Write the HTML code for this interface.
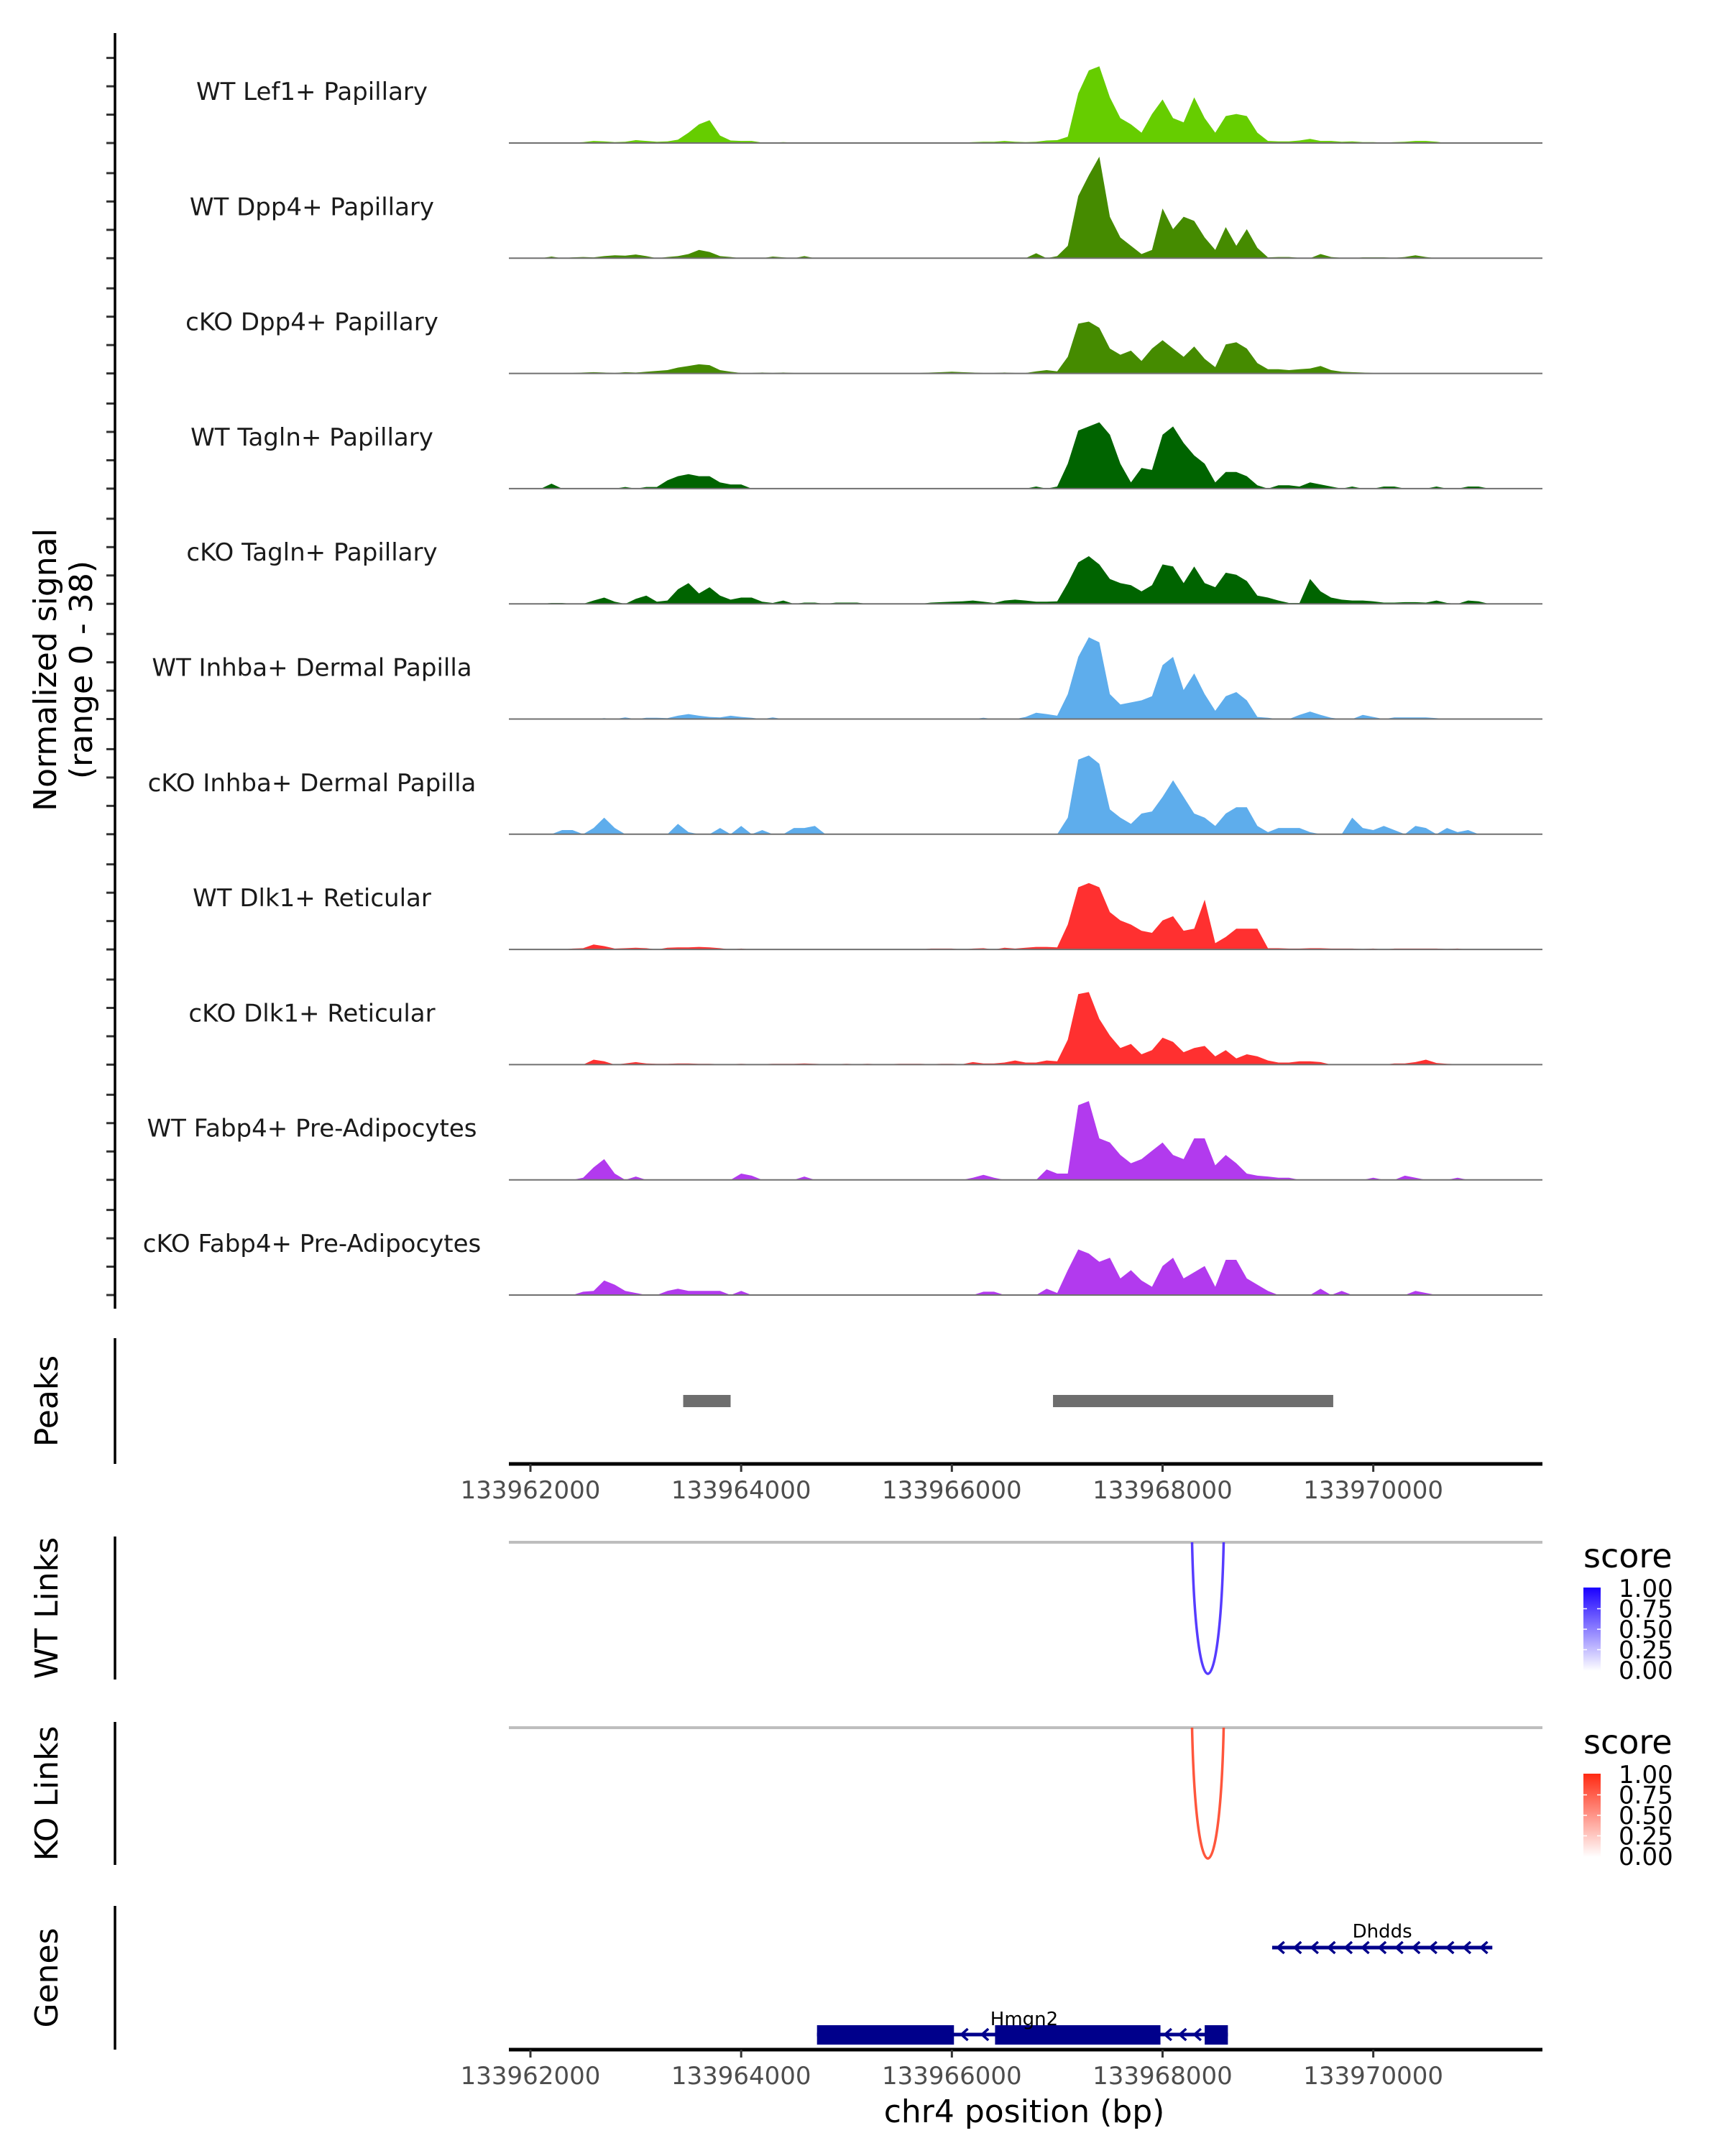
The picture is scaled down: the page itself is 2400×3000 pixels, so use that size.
<!DOCTYPE html>
<html><head><meta charset="utf-8"><style>
html,body{margin:0;padding:0;background:#fff}
svg{display:block;font-family:"DejaVu Sans","Liberation Sans",sans-serif}
</style></head><body>
<svg id="chart" width="2400" height="3000" viewBox="0 0 2400 3000" xmlns="http://www.w3.org/2000/svg">
<g id="signal"></g>
<g id="axes"></g>
</svg>
<script>
// ---- data ----
const regionStart = 133961750;
const binSize = 100;
const trackNames = ["WT Lef1+ Papillary","WT Dpp4+ Papillary","cKO Dpp4+ Papillary","WT Tagln+ Papillary","cKO Tagln+ Papillary","WT Inhba+ Dermal Papilla","cKO Inhba+ Dermal Papilla","WT Dlk1+ Reticular","cKO Dlk1+ Reticular","WT Fabp4+ Pre-Adipocytes","cKO Fabp4+ Pre-Adipocytes"];
const trackColors = ["#66cd00","#458b00","#458b00","#006400","#006400","#5eadec","#5eadec","#ff3030","#ff3030","#b23aee","#b23aee"];
// signal values per 100bp bin (arbitrary scale, max ~260 ≈ 38 normalized)
const sLef1WT = [0,0,0,0,1,1,1,2,5,4,2,3,7,5,3,4,8,25,45,55,18,6,5,5,1,1,2,1,1,1,1,1,1,1,1,1,1,1,1,1,1,1,1,1,2,3,3,5,3,2,3,6,7,15,120,175,185,110,60,45,25,70,105,60,50,110,60,25,65,70,65,25,5,4,4,6,10,5,5,3,4,2,2,1,2,3,5,5,3,0,0,0,0,0,0,0,0,0];
const sDpp4WT = [0,0,0,0,4,0,2,3,2,5,7,6,9,5,0,3,5,10,20,15,5,3,0,0,0,4,2,0,5,0,0,0,0,0,0,0,0,0,0,0,0,0,0,0,0,0,0,0,0,0,12,0,5,30,150,200,245,100,50,30,10,20,120,70,100,90,50,20,75,30,70,25,2,3,3,1,0,10,3,1,0,2,2,2,1,3,7,3,0,0,0,0,0,0,0,0,0,0];
const sDpp4KO = [0,0,0,0,1,1,1,2,3,2,1,3,2,4,6,8,14,18,22,20,8,4,1,1,2,1,2,1,1,1,1,1,1,1,1,1,1,1,1,1,2,3,4,3,2,1,1,2,1,1,5,8,5,40,120,125,110,60,45,55,30,60,80,60,40,65,35,15,70,75,60,25,10,10,8,10,12,18,8,4,3,2,1,1,1,1,1,1,1,1,1,0,0,0,0,0,0,0];
const sTaglnWT = [0,0,0,0,12,0,0,0,0,0,0,4,0,4,4,20,30,35,30,30,15,10,10,0,0,0,0,0,0,0,0,0,0,0,0,0,0,0,0,0,0,0,0,0,0,0,0,0,0,0,5,0,5,60,140,150,160,130,60,15,50,45,130,150,110,80,60,15,40,40,30,8,0,8,8,5,15,10,5,0,5,0,0,5,5,0,0,0,5,0,0,5,5,0,0,0,0,0];
const sTaglnKO = [0,0,0,0,2,2,0,0,8,15,5,0,12,20,5,8,35,50,25,40,20,10,15,15,5,2,8,0,3,3,0,3,3,3,0,0,0,0,0,0,3,4,5,6,8,5,2,8,10,8,5,5,6,50,100,115,95,60,50,45,30,45,95,90,50,90,50,40,75,70,55,20,15,8,2,2,60,30,15,10,8,8,6,3,3,4,4,3,8,2,0,8,6,0,0,0,0,0];
const sInhbaWT = [0,0,0,0,0,0,0,0,0,2,0,4,0,3,3,2,8,12,8,5,4,8,5,3,0,4,0,0,0,0,0,0,0,0,0,0,0,0,0,0,0,0,0,0,0,3,0,0,0,5,15,12,8,60,150,197,185,60,35,40,45,55,130,150,70,110,60,20,55,65,45,5,3,0,0,10,18,10,3,0,0,10,5,0,4,4,4,4,2,0,0,0,0,0,0,0,0,0];
const sInhbaKO = [0,0,0,0,0,10,10,0,15,40,15,0,0,0,0,0,25,5,0,0,15,0,20,0,10,0,0,15,15,20,0,0,0,0,0,0,0,0,0,0,0,0,0,0,0,0,0,0,0,0,0,0,0,40,180,190,170,60,40,25,50,55,90,130,90,50,40,20,50,65,65,20,5,15,15,15,5,0,0,0,40,15,10,20,10,0,20,15,0,15,5,10,0,0,0,0,0,0];
const sDlk1WT = [0,0,0,0,0,0,2,3,12,8,2,3,4,3,0,4,5,5,6,5,3,0,2,0,0,0,0,0,0,0,0,0,0,0,0,0,0,0,0,0,2,2,2,0,2,3,0,4,2,4,6,6,5,60,150,160,150,90,70,60,45,40,70,80,45,50,120,15,30,50,50,50,3,3,2,2,3,3,2,2,2,1,2,0,2,2,2,2,2,1,2,0,0,0,0,0,0,0];
const sDlk1KO = [0,0,0,0,0,0,0,0,12,8,0,3,6,3,2,2,3,3,2,2,1,1,2,1,1,2,2,2,3,2,1,1,2,1,2,1,1,2,2,2,1,2,2,1,6,3,3,5,10,5,5,10,8,60,170,175,110,70,40,50,25,35,65,55,30,40,45,20,35,15,25,20,10,5,5,8,8,6,0,0,0,0,0,0,3,3,6,12,4,2,1,0,0,0,0,0,0,0];
const sFabp4WT = [0,0,0,0,0,0,0,5,30,50,15,0,8,0,0,0,0,0,0,0,0,0,15,10,0,0,0,0,8,0,0,0,0,0,0,0,0,0,0,0,0,0,0,0,5,12,5,0,0,0,0,25,15,15,180,190,100,90,60,40,50,70,90,60,50,100,100,35,60,40,15,10,8,5,5,0,0,0,0,0,0,0,5,0,0,10,5,0,0,0,5,0,0,0,0,0,0,0];
const sFabp4KO = [0,0,0,0,0,0,0,8,10,35,25,10,5,0,0,10,15,10,10,10,10,0,10,0,0,0,0,0,0,0,0,0,0,0,0,0,0,0,0,0,0,0,0,0,0,8,8,0,0,0,0,15,5,60,110,100,80,90,40,60,35,20,70,90,40,55,70,20,85,85,40,25,10,0,0,0,0,15,0,10,0,0,0,0,0,0,10,5,0,0,0,0,0,0,0,0,0,0];
const signals = [sLef1WT,sDpp4WT,sDpp4KO,sTaglnWT,sTaglnKO,sInhbaWT,sInhbaKO,sDlk1WT,sDlk1KO,sFabp4WT,sFabp4KO];
const signalMax = 260;
const signalTicks = [0,68.4,136.8,205.2]; // 0,10,20,30 normalized units
const peakStarts = [133963450,133966960];
const peakEnds = [133963900,133969620];
const xTicks = [133962000,133964000,133966000,133968000,133970000];
const linkStartsWT = [133968280], linkEndsWT = [133968580], linkScoresWT = [0.8];
const linkStartsKO = [133968280], linkEndsKO = [133968580], linkScoresKO = [0.8];
const geneNames = ["Dhdds","Hmgn2"];
const geneStarts = [133969040,133964720];
const geneEnds = [133971130,133968620];
const hmgn2ExonStarts = [133964720,133966410,133968400];
const hmgn2ExonEnds = [133966020,133967980,133968620];

// ---- scales ----
const X0 = 738, PXBP = 0.14658;
const xs = bp => X0 + (bp - 133962000) * PXBP;
const trackTop0 = 199, trackStep = 160.3, trackH = 150;
const ys = (v, k) => trackTop0 + k*trackStep - v/signalMax*trackH;
const NS = "http://www.w3.org/2000/svg";
function mk(tag, attrs, parent, text){const e=document.createElementNS(NS,tag);for(const a in attrs)e.setAttribute(a,attrs[a]);if(text!==undefined)e.textContent=text;parent.appendChild(e);return e;}
const svg = document.getElementById('chart');
const gS = document.getElementById('signal');
const gA = document.getElementById('axes');

// signal tracks
signals.forEach((arr,k)=>{
  const base = ys(0,k);
  let d = `M${xs(regionStart+binSize*0.5).toFixed(1)},${base}`;
  arr.forEach((v,i)=>{
    const xc = xs(regionStart+(i+0.5)*binSize);
    d += ` L${xc.toFixed(1)},${ys(v,k).toFixed(1)}`;
  });
  d += ` L${xs(regionStart+(arr.length-0.5)*binSize).toFixed(1)},${base} Z`;
  const p = mk('path',{d:d,fill:trackColors[k]},gS);
  
  
  const bl = mk('line',{x1:708,x2:2146,y1:base,y2:base,stroke:'#707070','stroke-width':2},gS);
  
  
  const t = mk('text',{x:434,y:base-60,'font-size':34,'text-anchor':'middle',fill:'#1a1a1a'},gA,trackNames[k]);
  
  
  signalTicks.forEach(tv=>{
    const tk = mk('line',{x1:148,x2:160,y1:ys(tv,k),y2:ys(tv,k),stroke:'#333','stroke-width':3},gA);
    
    
  });
});
let ax = mk('line',{x1:160,x2:160,y1:46,y2:1821,stroke:'#000','stroke-width':3.5},gA);


let yt = mk('text',{transform:'translate(78,932) rotate(-90)','font-size':44,'text-anchor':'middle',fill:'#000'},gA,'Normalized signal');


yt = mk('text',{transform:'translate(128,932) rotate(-90)','font-size':44,'text-anchor':'middle',fill:'#000'},gA,'(range 0 - 38)');



// side panels axes + titles
const panels = [["Peaks",1862,2037],["WT Links",2138,2337],["KO Links",2396,2595],["Genes",2652,2852]];
panels.forEach(p=>{
  const l = mk('line',{x1:160,x2:160,y1:p[1],y2:p[2],stroke:'#000','stroke-width':3.5},gA);
  
  
  const t = mk('text',{transform:`translate(80,${(p[1]+p[2])/2}) rotate(-90)`,'font-size':44,'text-anchor':'middle',fill:'#000'},gA,p[0]);
  
  
});

// peaks
peakStarts.forEach((s,i)=>{
  const r = mk('rect',{x:xs(s),y:1941,width:xs(peakEnds[i])-xs(s),height:17,fill:'#6e6e6e'},gA);
  
  
});

// x axes
function xAxis(y){
  const l = mk('line',{x1:708,x2:2146,y1:y,y2:y,stroke:'#000','stroke-width':5},gA);
  
  
  xTicks.forEach(v=>{
    const tk = mk('line',{x1:xs(v),x2:xs(v),y1:y,y2:y+11,stroke:'#333','stroke-width':3},gA);
    
    
    const t = mk('text',{x:xs(v),y:y+48,'font-size':34,'text-anchor':'middle',fill:'#4d4d4d'},gA,String(v));
    
    
  });
}
xAxis(2037); xAxis(2852);
let xt = mk('text',{x:1425,y:2953,'font-size':44,'text-anchor':'middle',fill:'#000'},gA,'chr4 position (bp)');



// links
function links(starts,ends,scores,topY,depth,col,name){
  const g = mk('line',{x1:708,x2:2146,y1:topY,y2:topY,stroke:'#bebebe','stroke-width':4},gA);
  
  
  starts.forEach((s,i)=>{
    const a=xs(s), b=xs(ends[i]), w=b-a;
    const c = topY + depth/0.75;
    const p = mk('path',{d:`M${a},${topY} C${a+w*0.12},${c} ${b-w*0.12},${c} ${b},${topY}`,fill:'none',stroke:col,'stroke-width':3.5,opacity:0.3+0.7*scores[i]},gA);
    
    
  });
}
links(linkStartsWT,linkEndsWT,linkScoresWT,2146,183,'#3a1cff','wt-link');
links(linkStartsKO,linkEndsKO,linkScoresKO,2404,182,'#ff3a1c','ko-link');

// legends
const defs = mk('defs',{},svg);
function legend(top,col,id){
  const lg = mk('linearGradient',{id:id,x1:0,y1:1,x2:0,y2:0},defs);
  mk('stop',{offset:0,'stop-color':'#ffffff'},lg);
  mk('stop',{offset:1,'stop-color':col},lg);
  const t = mk('text',{x:2203,y:top-28,'font-size':46,fill:'#000'},gA,'score');
  
  
  const r = mk('rect',{x:2203,y:top,width:24,height:116,fill:`url(#${id})`},gA);
  
  
  ["1.00","0.75","0.50","0.25","0.00"].forEach((s,i)=>{
    const yy = top + 1 + i*28.5;
    const tl = mk('text',{x:2252,y:yy+12,'font-size':34,fill:'#000'},gA,s);
    
    
    if(i>0&&i<4){
      mk('line',{x1:2203,x2:2208,y1:yy,y2:yy,stroke:'#fff','stroke-width':1.5},gA);
      mk('line',{x1:2222,x2:2227,y1:yy,y2:yy,stroke:'#fff','stroke-width':1.5},gA);
    }
  });
}
legend(2209,'#1a00ff','gradWT');
legend(2468,'#ff2a12','gradKO');

// genes
const gc = '#00008b';
function chevrons(x1,x2,y,n){
  for(let i=0;i<n;i++){
    const cx = x1 + (i+0.5)*(x2-x1)/n;
    const c = mk('path',{d:`M${cx+5},${y-8} L${cx-4},${y} L${cx+5},${y+8}`,fill:'none',stroke:gc,'stroke-width':3.5},gA);
    
    
  }
}
let gl = mk('line',{x1:xs(geneStarts[0]),x2:xs(geneEnds[0]),y1:2710,y2:2710,stroke:gc,'stroke-width':5},gA);


chevrons(xs(geneStarts[0]),xs(geneEnds[0]),2710,13);
let gt = mk('text',{x:(xs(geneStarts[0])+xs(geneEnds[0]))/2,y:2696,'font-size':26,'text-anchor':'middle',fill:'#000'},gA,geneNames[0]);


gl = mk('line',{x1:xs(geneStarts[1]),x2:xs(geneEnds[1]),y1:2831,y2:2831,stroke:gc,'stroke-width':5},gA);


hmgn2ExonStarts.forEach((s,i)=>{
  const r = mk('rect',{x:xs(s),y:2818,width:xs(hmgn2ExonEnds[i])-xs(s),height:27,fill:gc},gA);
  
  
});
chevrons(xs(hmgn2ExonEnds[0]),xs(hmgn2ExonStarts[1]),2831,2);
chevrons(xs(hmgn2ExonEnds[1]),xs(hmgn2ExonStarts[2]),2831,3);
gt = mk('text',{x:1425,y:2818,'font-size':26,'text-anchor':'middle',fill:'#000'},gA,geneNames[1]);


</script>
</body></html>
